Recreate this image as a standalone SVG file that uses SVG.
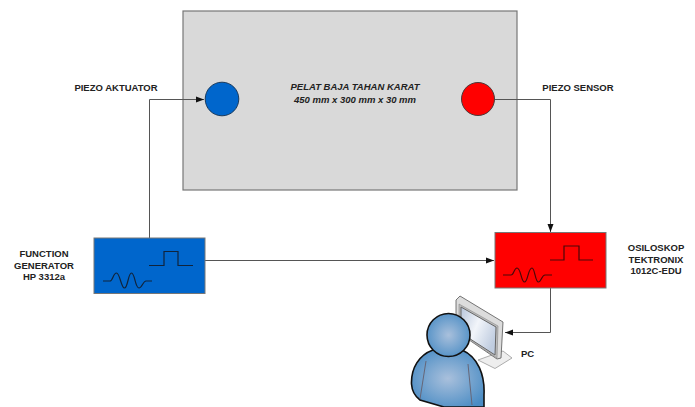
<svg xmlns="http://www.w3.org/2000/svg" width="695" height="407" viewBox="0 0 695 407">
<style>
text{font-family:"Liberation Sans",Arial,sans-serif;font-weight:bold;font-size:9.500px;fill:#222;text-anchor:middle}
.i{font-style:italic}
.c{fill:none;stroke:#555;stroke-width:1}
.w{fill:none;stroke:#10243c;stroke-width:1.200}
.wr{fill:none;stroke:#4a0808;stroke-width:1.200}
.box{stroke:#777;stroke-width:1}
</style>
<defs>
<marker id="a" markerWidth="9" markerHeight="7" refX="8" refY="3.500" orient="auto" markerUnits="userSpaceOnUse"><path d="M0 0.500L8 3.500L0 6.500Z" fill="#111"/></marker>
<radialGradient id="b" cx="0.5" cy="0.5" r="0.6"><stop offset="0" stop-color="#a9c0dc"/><stop offset="1" stop-color="#4a8cc4"/></radialGradient>
<linearGradient id="s" x1="0" y1="0" x2="1" y2="0.6"><stop offset="0" stop-color="#b8c6dc"/><stop offset="0.5" stop-color="#f2f5fa"/><stop offset="1" stop-color="#c0cde0"/></linearGradient>
</defs>
<g id="plate"><rect x="183" y="11" width="334" height="179" fill="#d9d9d9" stroke="#777" stroke-width="1.200"/>
<text class="i" x="355" y="90">PELAT BAJA TAHAN KARAT</text>
<text class="i" x="355" y="102.500">450 mm x 300 mm x 30 mm</text></g>
<g id="connectors">
<path class="c" d="M149.500 238V99.500H204" marker-end="url(#a)"/>
<path class="c" d="M495 99.500H550.500V232" marker-end="url(#a)"/>
<path class="c" d="M205 260.500H494" marker-end="url(#a)"/>
<path class="c" d="M550.500 288V332.500H505" marker-end="url(#a)"/>
</g>
<g id="actuator"><circle cx="222" cy="99" r="16.800" fill="#0066cc" stroke="#1a3a5c" stroke-width="1"/><text x="116" y="91">PIEZO AKTUATOR</text></g>
<g id="sensor"><circle cx="478" cy="99" r="16.500" fill="#ff0000" stroke="#4a3a3a" stroke-width="1"/><text x="578" y="91">PIEZO SENSOR</text></g>
<g id="generator"><rect class="box" x="94" y="238" width="111" height="55.500" fill="#0066cc"/>
<path class="w" d="M149 265.500H164V251.500H178V265.500H193"/>
<path class="w" d="M103 281H110C113 281 113 273 116.500 273C120 273 121 288 124.500 288C128 288 128 273 131.500 273C135 273 135 288 139 288C142 288 143 281 146 281H152"/>
<text x="44" y="256.500">FUNCTION</text><text x="44" y="268.500">GENERATOR</text><text x="44" y="280">HP 3312a</text></g>
<g id="oscilloscope"><rect class="box" x="495" y="232.500" width="111" height="55.500" fill="#ff0000"/>
<path class="wr" d="M550 260H564V246H579V260H593"/>
<path class="wr" d="M503 275H511C514 275 514 268 517 268C521 268 521 282 524.500 282C528 282 528 268 532 268C535 268 535 282 538.500 282C541 282 542 275 545 275H552"/>
<text x="656" y="250.700">OSILOSKOP</text><text x="656" y="262.700">TEKTRONIX</text><text x="656" y="274.400">1012C-EDU</text></g>
<g id="pc">
<path d="M478 360L503 351L512 358L495 368.500Z" fill="#eeeeee" stroke="#999" stroke-width="0.800"/>
<path d="M456 300L460 296L503 322L501 358L497 359L456 331Z" fill="#dcdcdc" stroke="#555" stroke-width="0.800"/>
<path d="M459 304L498 326L497 358L459 333Z" fill="#bdbdbd" stroke="#888" stroke-width="0.600"/>
<path d="M461 307L496 327L495 355L461 333Z" fill="url(#s)" stroke="#666" stroke-width="1"/>
<text x="527.500" y="356.500">PC</text></g>
<g id="user">
<path d="M433 350C419 355 411 368 411.500 384C412 392 416 397 420 400L444 407H484V395C485 375 478 357 462 350Z" fill="url(#b)" stroke="#111" stroke-width="1.600"/>
<path d="M426 361L420 399M468 364L472 405" fill="none" stroke="#667" stroke-width="1"/>
<circle cx="448.500" cy="335" r="21.500" fill="url(#b)" stroke="#111" stroke-width="1.600"/>
</g>
</svg>
